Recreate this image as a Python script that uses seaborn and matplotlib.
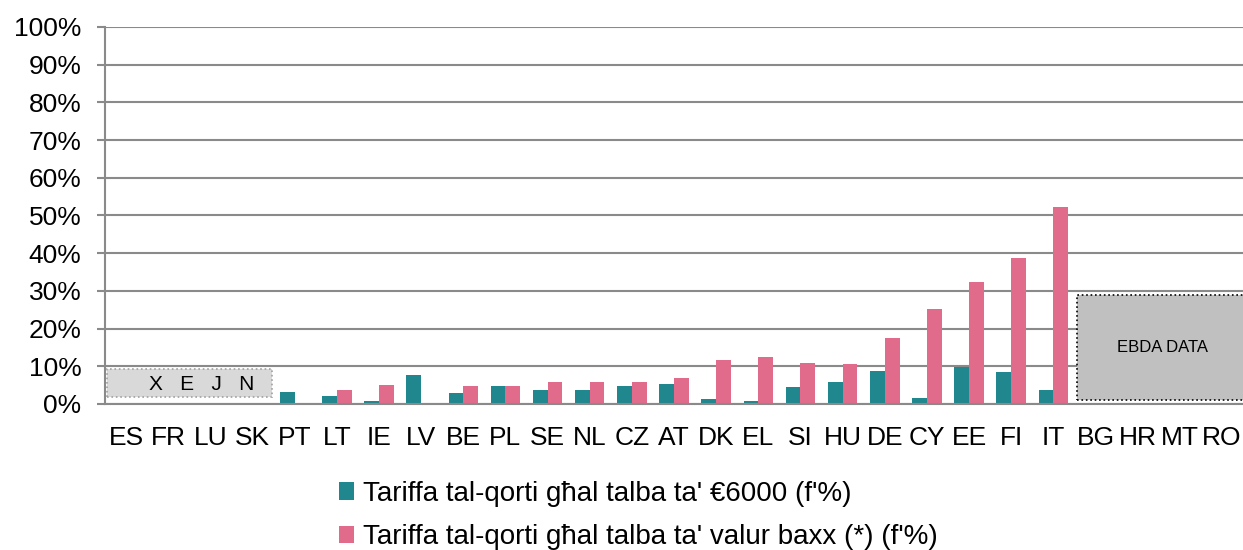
import numpy as np
import pandas as pd
import seaborn as sns
import matplotlib.pyplot as plt
from matplotlib.patches import Rectangle
from matplotlib.ticker import FixedLocator, PercentFormatter

countries = ['ES', 'FR', 'LU', 'SK', 'PT', 'LT', 'IE', 'LV', 'BE', 'PL', 'SE', 'NL', 'CZ',
             'AT', 'DK', 'EL', 'SI', 'HU', 'DE', 'CY', 'EE', 'FI', 'IT', 'BG', 'HR', 'MT', 'RO']
fee_6000 = [np.nan, np.nan, np.nan, np.nan, 3.1, 2.0, 0.9, 7.7, 2.9, 4.8, 3.8, 3.8, 4.8,
            5.3, 1.4, 0.9, 4.4, 5.7, 8.8, 1.7, 9.8, 8.6, 3.7, np.nan, np.nan, np.nan, np.nan]
fee_low = [np.nan, np.nan, np.nan, np.nan, 0.0, 3.7, 5.1, 0.0, 4.9, 4.8, 5.7, 5.8, 5.7,
           7.0, 11.6, 12.5, 11.0, 10.5, 17.5, 25.3, 32.3, 38.7, 52.3, np.nan, np.nan, np.nan, np.nan]
series_names = ["Tariffa tal-qorti għal talba ta' €6000 (f'%)",
                "Tariffa tal-qorti għal talba ta' valur baxx (*) (f'%)"]
colors = ['#21878e', '#e06b8b']

df = pd.DataFrame({
    'country': countries * 2,
    'value': fee_6000 + fee_low,
    'series': [series_names[0]] * len(countries) + [series_names[1]] * len(countries),
})
df['value'] = df['value'] / 100

sns.set_style('white')
plt.rcParams['font.family'] = ['Liberation Sans', 'DejaVu Sans']
plt.rcParams['text.color'] = 'black'

fig = plt.figure(figsize=(12.43, 5.5), dpi=100)
ax = fig.add_axes([0.0845, 0.2655, 0.9155, 0.6855])

sns.barplot(data=df, x='country', y='value', hue='series', order=countries,
            hue_order=series_names, palette=colors, width=0.70, ax=ax,
            errorbar=None, saturation=1, legend=True, linewidth=0)

n = len(countries)
ax.set_xlim(-0.5, n - 0.5)
ax.set_ylim(0, 1.0)
ax.yaxis.set_major_locator(FixedLocator(np.arange(0, 1.01, 0.1)))
ax.yaxis.set_major_formatter(PercentFormatter(1.0, decimals=0))
ax.grid(axis='y', color='#8a8a8a', linewidth=1.5)
ax.set_axisbelow(True)

for s in ['top', 'right']:
    ax.spines[s].set_visible(False)
for s in ['left', 'bottom']:
    ax.spines[s].set_color('#8a8a8a')
    ax.spines[s].set_linewidth(1.5)

ax.xaxis.set_minor_locator(FixedLocator(np.arange(-0.5, n, 1.0)))
ax.tick_params(axis='x', which='major', length=0, pad=16, labelsize=19, labelcolor='black')
ax.tick_params(axis='x', which='minor', length=6, width=1.5, color='#8a8a8a', direction='out')
ax.tick_params(axis='y', which='major', length=6, width=1.5, color='#8a8a8a', direction='out',
               labelsize=19, pad=11, labelcolor='black', left=True)
ax.set_xlabel('')
ax.set_ylabel('')

# no-data boxes
ax.add_patch(Rectangle((-0.45, 0.019), 3.9, 0.073, facecolor='#d9d9d9', edgecolor='#a0a0a0',
                       linestyle=':', linewidth=1.2, zorder=3))
ax.text(1.8, 0.052, 'X   E   J   N', ha='center', va='center', fontsize=15,
        color='black', zorder=4)
ax.add_patch(Rectangle((22.55, 0.01), 4.45, 0.28, facecolor='#c0c0c0', edgecolor='black',
                       linestyle=':', linewidth=1.2, zorder=3, clip_on=False))
ax.text(24.6, 0.15, 'EBDA DATA', ha='center', va='center', fontsize=12,
        color='black', zorder=4)

handles, labels = ax.get_legend_handles_labels()
leg = ax.legend(handles, labels, loc='upper left', bbox_to_anchor=(0.196, -0.175),
                frameon=False, fontsize=20, handlelength=0.55, handleheight=0.6,
                handletextpad=0.3, labelspacing=0.62, borderaxespad=0, ncol=1)
for t in leg.get_texts():
    t.set_color('black')

fig.savefig('out.png', dpi=100)
